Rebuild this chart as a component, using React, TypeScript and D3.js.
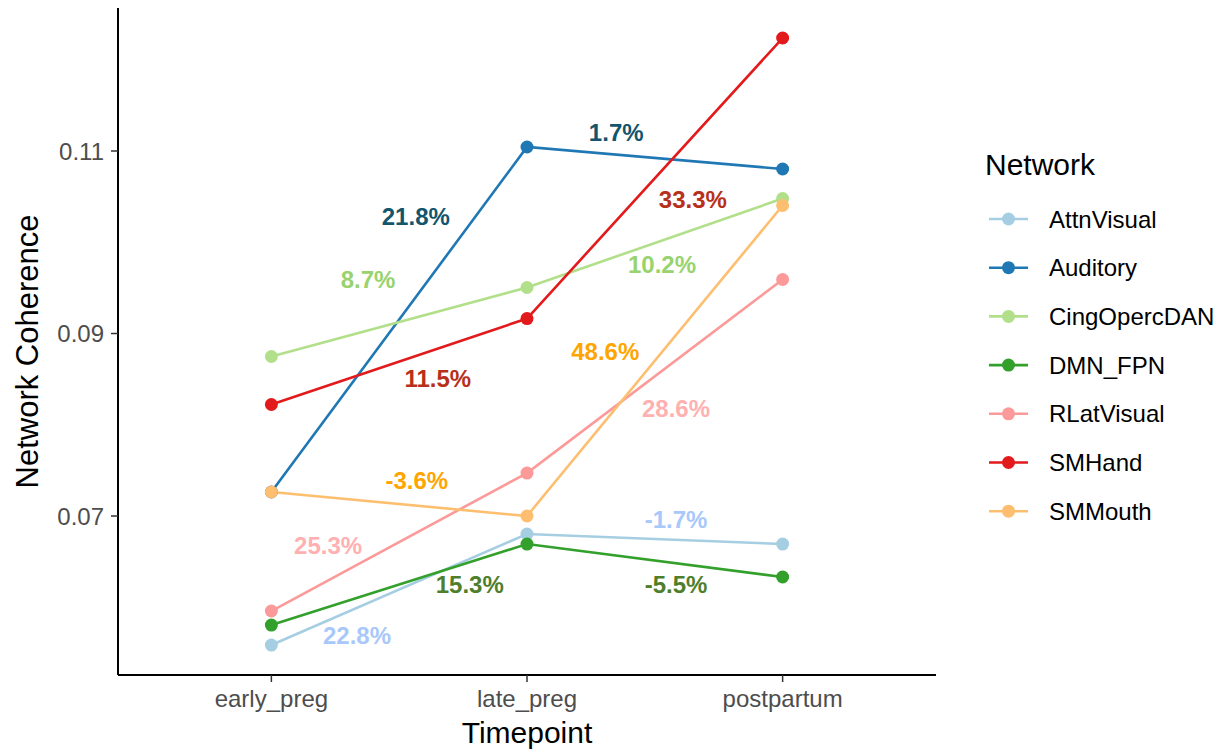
import React from "react";
import * as d3 from "d3";

const timepoints = ["early_preg", "late_preg", "postpartum"];
const networks = ["AttnVisual", "Auditory", "CingOpercDAN", "DMN_FPN", "RLatVisual", "SMHand", "SMMouth"];
const lineColors = ["#A6CEE3", "#1F78B4", "#B2DF8A", "#33A02C", "#FB9A99", "#E31A1C", "#FDBF6F"];
const labelColors = ["#a8c8fa", "#12556c", "#98d36e", "#4f7f2b", "#ffb0b0", "#b8301a", "#ffa500"];

const attnVisual = [0.05586, 0.06803, 0.06693];
const auditory = [0.07263, 0.11044, 0.10803];
const cingOpercDAN = [0.08748, 0.09504, 0.10479];
const dmnFpn = [0.05805, 0.06693, 0.06332];
const rLatVisual = [0.05959, 0.07471, 0.09592];
const smHand = [0.08222, 0.09164, 0.12238];
const smMouth = [0.07263, 0.07, 0.10403];
const seriesValues = [attnVisual, auditory, cingOpercDAN, dmnFpn, rLatVisual, smHand, smMouth];

// percent change labels: [early->late, late->post]
const pctLabels = [
  ["22.8%", "-1.7%"],
  ["21.8%", "1.7%"],
  ["8.7%", "10.2%"],
  ["15.3%", "-5.5%"],
  ["25.3%", "28.6%"],
  ["11.5%", "33.3%"],
  ["-3.6%", "48.6%"],
];
// label anchor: position along timepoint index, and value
const pctLabelX = [
  [0.335, 1.583],
  [0.565, 1.349],
  [0.378, 1.528],
  [0.776, 1.583],
  [0.222, 1.583],
  [0.651, 1.649],
  [0.569, 1.306],
];
const pctLabelY = [
  [0.05696, 0.06967],
  [0.10288, 0.11208],
  [0.09592, 0.09756],
  [0.06255, 0.06255],
  [0.06682, 0.08184],
  [0.08507, 0.10474],
  [0.07395, 0.08803],
];

const yTicks = [0.07, 0.09, 0.11];

const FONT = "'Liberation Sans', Arial, Helvetica, sans-serif";

export default function App() {
  const W = 1228, H = 755;
  const left = 118, right = 936, top = 10, bottom = 675;
  const x = d3.scalePoint<string>().domain(timepoints).range([left, right]).padding(0.6);
  const y = d3.scaleLinear().domain([0.05258, 0.12545]).range([bottom, top]);
  const step = x.step();
  const xIdx = (t: number) => (x(timepoints[0]) as number) + t * step;
  const line = d3.line<number>().x((_, i) => x(timepoints[i]) as number).y((d) => y(d));

  const legendX = 985, legendY0 = 219, legendStep = 48.7;

  return (
    <svg width={W} height={H} style={{ position: "absolute", left: 0, top: 0, background: "#fff" }} fontFamily={FONT}>
      {/* axes */}
      <line x1={left} x2={left} y1={top - 2} y2={bottom} stroke="#000" strokeWidth={2} />
      <line x1={left} x2={right} y1={bottom} y2={bottom} stroke="#000" strokeWidth={2} />
      {yTicks.map((t) => (
        <g key={t}>
          <line x1={left - 7} x2={left} y1={y(t)} y2={y(t)} stroke="#333" strokeWidth={1.5} />
          <text x={left - 14} y={y(t)} dy="0.36em" textAnchor="end" fontSize={24} fill="#4d4d4d">
            {t.toFixed(2)}
          </text>
        </g>
      ))}
      {timepoints.map((tp) => (
        <g key={tp}>
          <line x1={x(tp)} x2={x(tp)} y1={bottom} y2={bottom + 7} stroke="#333" strokeWidth={1.5} />
          <text x={x(tp)} y={bottom + 32} textAnchor="middle" fontSize={24} fill="#4d4d4d">
            {tp}
          </text>
        </g>
      ))}
      <text x={(left + right) / 2} y={743} textAnchor="middle" fontSize={30} fill="#000">
        Timepoint
      </text>
      <text transform={`translate(38,${(top + bottom) / 2 + 9}) rotate(-90)`} textAnchor="middle" fontSize={31} fill="#000">
        Network Coherence
      </text>

      {/* lines */}
      {seriesValues.map((vals, i) => (
        <path key={networks[i]} d={line(vals) || ""} fill="none" stroke={lineColors[i]} strokeWidth={2.6} />
      ))}
      {seriesValues.map((vals, i) =>
        vals.map((v, j) => (
          <circle key={networks[i] + j} cx={x(timepoints[j])} cy={y(v)} r={6.5} fill={lineColors[i]} />
        ))
      )}
      {/* percent labels */}
      {pctLabels.map((labs, i) =>
        labs.map((lab, j) => (
          <text
            key={networks[i] + "l" + j}
            x={xIdx(pctLabelX[i][j])}
            y={y(pctLabelY[i][j])}
            dy="0.36em"
            textAnchor="middle"
            fontSize={24}
            fontWeight="bold"
            fill={labelColors[i]}
          >
            {lab}
          </text>
        ))
      )}

      {/* legend */}
      <text x={legendX} y={175} fontSize={30} fill="#000">
        Network
      </text>
      {networks.map((n, i) => {
        const cy = legendY0 + i * legendStep;
        return (
          <g key={n}>
            <line x1={989} x2={1028} y1={cy} y2={cy} stroke={lineColors[i]} strokeWidth={2.6} />
            <circle cx={1008.5} cy={cy} r={6.5} fill={lineColors[i]} />
            <text x={1049} y={cy} dy="0.36em" fontSize={24} fill="#000">
              {n}
            </text>
          </g>
        );
      })}
    </svg>
  );
}
